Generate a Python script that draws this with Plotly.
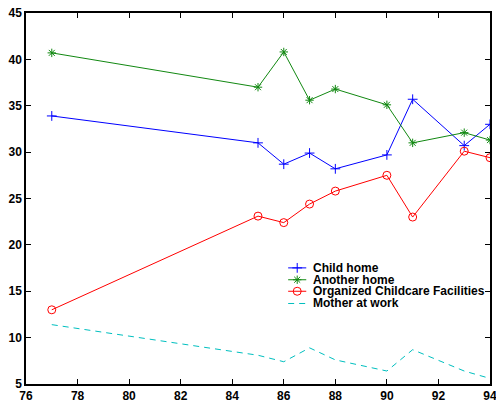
import plotly.graph_objects as go

years = [77, 85, 86, 87, 88, 90, 91, 93, 94]
child_home = [33.9, 31.0, 28.7, 29.9, 28.2, 29.7, 35.7, 30.7, 33.0]
another_home = [40.7, 37.0, 40.8, 35.6, 36.8, 35.1, 31.0, 32.1, 31.3]
organized = [13.0, 23.1, 22.4, 24.4, 25.8, 27.5, 23.0, 30.1, 29.4]
mother_work = [11.4, 8.1, 7.4, 8.9, 7.6, 6.4, 8.7, 6.4, 5.6]

series_names = ["Child home", "Another home", "Organized Childcare Facilities", "Mother at work"]
series_colors = ["#0000ff", "#118811", "#ff0000", "#00bfbf"]
series_symbols = ["cross-thin-open", "asterisk-open", "circle-open", None]
series_sizes = [7, 7, 8, 0]
series_dash = ["solid", "solid", "solid", "6px,5px"]
series_values = [child_home, another_home, organized, mother_work]

x_ticks = list(range(76, 95, 2))
y_ticks = list(range(5, 46, 5))

font_main = "Liberation Sans, Arial, sans-serif"

fig = go.Figure()
for name, vals, col, sym, sz, dash in zip(series_names, series_values, series_colors, series_symbols, series_sizes, series_dash):
    mode = "lines+markers" if sym else "lines"
    fig.add_trace(go.Scatter(
        x=years, y=vals, name=name, mode=mode,
        line=dict(color=col, width=1, dash=dash),
        marker=dict(symbol=sym or "circle", size=sz or 6, color=col, line=dict(color=col, width=1)),
        showlegend=False, xaxis="x", yaxis="y",
    ))

# compact legend drawn on a hidden overlay axis
leg_x0, leg_x1 = 0.565, 0.604
leg_rows = [0.313, 0.281, 0.250, 0.217]
for name, col, sym, sz, dash, yy in zip(series_names, series_colors, series_symbols, series_sizes, series_dash, leg_rows):
    fig.add_trace(go.Scatter(
        x=[leg_x0, leg_x1], y=[yy, yy], mode="lines",
        line=dict(color=col, width=1, dash=dash),
        showlegend=False, xaxis="x2", yaxis="y2", hoverinfo="skip",
    ))
    if sym:
        fig.add_trace(go.Scatter(
            x=[(leg_x0 + leg_x1) / 2], y=[yy], mode="markers",
            marker=dict(symbol=sym, size=sz, color=col, line=dict(color=col, width=1)),
            showlegend=False, xaxis="x2", yaxis="y2", hoverinfo="skip",
        ))
    fig.add_annotation(
        x=0.616, y=yy, xref="paper", yref="paper", text="<b>%s</b>" % name,
        showarrow=False, xanchor="left", yanchor="middle", borderpad=0,
        font=dict(family=font_main, size=12, color="black"),
    )

axis_common = dict(
    showgrid=False, zeroline=False, ticks="inside", ticklen=5, tickwidth=1,
    tickcolor="black", showline=True, linecolor="black", linewidth=1.5,
    mirror="ticks", automargin=False, ticklabeloverflow="allow",
    tickfont=dict(family=font_main, size=12, color="black", weight="bold"),
)

# page body has an 8px default margin; margins are offset to place the plot area
fig.update_layout(
    width=504, height=404,
    margin=dict(l=18, r=22, t=5, b=28),
    paper_bgcolor="white", plot_bgcolor="white",
    xaxis=dict(range=[76, 94], tickvals=x_ticks, **axis_common),
    yaxis=dict(range=[5, 45], tickvals=y_ticks, **axis_common),
    xaxis2=dict(range=[0, 1], overlaying="x", visible=False, domain=[0, 1]),
    yaxis2=dict(range=[0, 1], overlaying="y", visible=False, domain=[0, 1]),
    showlegend=False,
)

fig.write_html("out.html")
